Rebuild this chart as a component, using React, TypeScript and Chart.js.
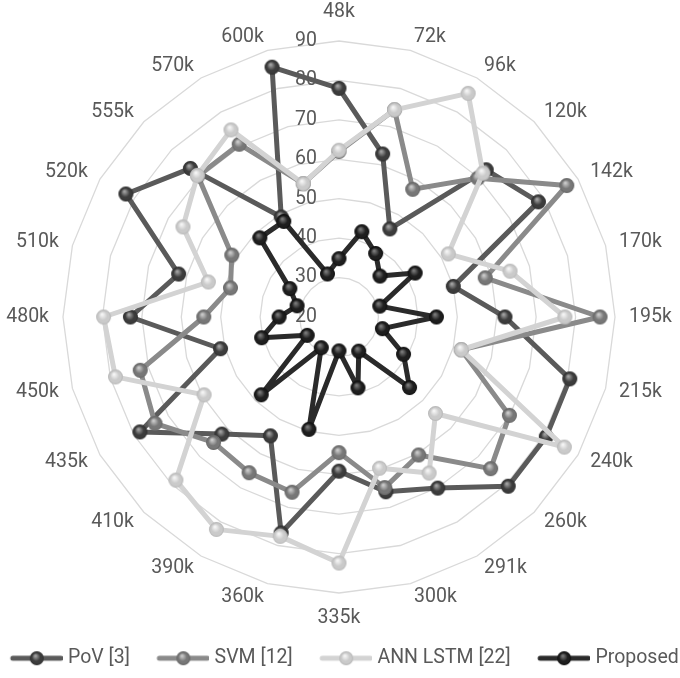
import React, { useEffect, useRef } from 'react';
import { Chart, registerables } from 'chart.js';

Chart.register(...registerables);

const categories = ['48k', '72k', '96k', '120k', '142k', '170k', '195k', '215k', '240k', '260k', '291k', '300k', '335k', '360k', '390k', '410k', '435k', '450k', '480k', '510k', '520k', '555k', '570k', '600k'];

const povValues = [78.0, 62.8, 45.8, 72.8, 78.4, 50.0, 62.1, 80.6, 80.7, 80.7, 70.1, 65.9, 59.1, 76.7, 54.8, 62.0, 78.3, 51.1, 72.9, 62.1, 82.4, 73.3, 49.3, 85.6];
const svmValues = [62.0, 74.4, 57.4, 69.8, 86.7, 58.4, 86.2, 52.1, 69.9, 74.4, 60.4, 64.8, 54.4, 66.0, 65.6, 65.0, 73.9, 72.2, 54.3, 48.5, 51.4, 70.6, 70.6, 55.0];
const annValues = [62.3, 74.4, 85.5, 71.6, 52.0, 64.9, 77.3, 52.1, 86.0, 54.6, 65.7, 59.7, 82.4, 77.6, 82.2, 78.5, 59.5, 78.7, 79.7, 54.3, 65.7, 70.8, 74.8, 55.0];
const proposedValues = [34.8, 42.4, 38.6, 34.7, 42.3, 30.7, 44.7, 31.4, 38.9, 45.3, 30.0, 38.6, 28.6, 49.5, 29.0, 47.9, 29.3, 40.3, 35.2, 31.0, 34.4, 48.4, 48.0, 31.3];

const seriesNames = ['PoV [3]', 'SVM [12]', 'ANN LSTM [22]', 'Proposed'];
const seriesValues = [povValues, svmValues, annValues, proposedValues];

const axisMin = 20;
const axisMax = 90;
const axisStep = 10;

const FONT = 'Roboto, "DejaVu Sans", sans-serif';
const TEXT_COLOR = '#595959';

const seriesStyles = [
  { line: '#5a5a5a', light: '#a0a0a0', dark: '#3c3c3c', border: '#333333' },
  { line: '#8a8a8a', light: '#c8c8c8', dark: '#777777', border: '#6a6a6a' },
  { line: '#d3d3d3', light: '#f4f4f4', dark: '#cacaca', border: '#bcbcbc' },
  { line: '#2a2a2a', light: '#777777', dark: '#1e1e1e', border: '#121212' },
];

function drawSphere(ctx: CanvasRenderingContext2D, cx: number, cy: number, r: number, st: any) {
  const g = ctx.createRadialGradient(cx - r * 0.2, cy - r * 0.35, r * 0.1, cx, cy, r);
  g.addColorStop(0, st.light);
  g.addColorStop(0.55, st.dark);
  g.addColorStop(1, st.dark);
  ctx.beginPath();
  ctx.arc(cx, cy, r - 0.6, 0, Math.PI * 2);
  ctx.fillStyle = g;
  ctx.fill();
  ctx.lineWidth = 1.2;
  ctx.strokeStyle = st.border;
  ctx.stroke();
}

function makeMarker(st: any) {
  const r = 7.5;
  const c = document.createElement('canvas');
  c.width = 17;
  c.height = 17;
  const ctx = c.getContext('2d')!;
  drawSphere(ctx, 8.5, 8.5, r, st);
  return c;
}

function makeLegendIcon(st: any) {
  const c = document.createElement('canvas');
  c.width = 68;
  c.height = 18;
  const ctx = c.getContext('2d')!;
  ctx.beginPath();
  ctx.moveTo(18, 9);
  ctx.lineTo(66, 9);
  ctx.lineWidth = 5;
  ctx.lineCap = 'round';
  ctx.strokeStyle = st.line;
  ctx.stroke();
  drawSphere(ctx, 42, 9, 7, st);
  return c;
}

const labelPlugin = {
  id: 'excelLabels',
  beforeDatasetsDraw(chart: any) {
    const s = chart.scales.r;
    const ctx = chart.ctx;
    ctx.save();
    ctx.font = `19.5px ${FONT}`;
    ctx.fillStyle = TEXT_COLOR;
    ctx.textAlign = 'right';
    ctx.textBaseline = 'middle';
    s.ticks.forEach((t: any) => {
      const d = s.getDistanceFromCenterForValue(t.value);
      ctx.fillText(String(t.value), s.xCenter - 22, s.yCenter - d);
    });
    ctx.restore();
  },
  afterDatasetsDraw(chart: any) {
    const s = chart.scales.r;
    const ctx = chart.ctx;
    ctx.save();
    ctx.font = `19.5px ${FONT}`;
    ctx.fillStyle = TEXT_COLOR;
    ctx.textBaseline = 'middle';
    const n = categories.length;
    categories.forEach((label, i) => {
      const deg = (i * 360) / n;
      const p = s.getPointPosition(i, s.drawingArea + 14);
      let y = p.y;
      if (deg === 0) {
        ctx.textAlign = 'center';
        y -= 14.5;
      } else if (deg === 180) {
        ctx.textAlign = 'center';
        y += 11;
      } else if (deg < 180) {
        ctx.textAlign = 'left';
      } else {
        ctx.textAlign = 'right';
      }
      ctx.fillText(label, p.x, y);
    });
    ctx.restore();
  },
};

export default function App() {
  const ref = useRef<HTMLCanvasElement | null>(null);

  useEffect(() => {
    document.body.style.margin = '0';
    const canvas = ref.current;
    if (!canvas) return;
    const markers = seriesStyles.map(makeMarker);
    const icons = seriesStyles.map(makeLegendIcon);
    const chart = new Chart(canvas, {
      type: 'radar',
      data: {
        labels: categories,
        datasets: seriesNames.map((name, i) => ({
          label: name,
          data: seriesValues[i],
          borderColor: seriesStyles[i].line,
          backgroundColor: 'rgba(0,0,0,0)',
          borderWidth: 5,
          borderJoinStyle: 'round',
          fill: false,
          pointStyle: markers[i],
          pointRadius: 7.5,
          pointHoverRadius: 7.5,
          order: 3 - i,
        })),
      },
      options: {
        animation: false,
        responsive: true,
        maintainAspectRatio: false,
        layout: { padding: { top: 41, bottom: 0, left: 0, right: 0 } },
        scales: {
          r: {
            min: axisMin,
            max: axisMax,
            startAngle: 0,
            ticks: { display: false, stepSize: axisStep },
            grid: { color: '#d9d9d9', lineWidth: 1.3 },
            angleLines: { display: false },
            pointLabels: { display: false },
          },
        },
        plugins: {
          tooltip: { enabled: false },
          legend: {
            position: 'bottom',
            title: { display: true, text: '', padding: { top: 25.1, bottom: 0 }, font: { size: 12 } },
            labels: {
              usePointStyle: true,
              pointStyleWidth: 59,
              padding: 16,
              color: TEXT_COLOR,
              font: { family: FONT, size: 19.5 },
              sort: (a: any, b: any) => a.datasetIndex - b.datasetIndex,
              generateLabels: (c: any) => {
                const items = (Chart.defaults.plugins.legend.labels as any).generateLabels(c);
                return items.map((it: any) => ({ ...it, pointStyle: icons[it.datasetIndex], fontColor: TEXT_COLOR }));
              },
            },
          },
        },
      } as any,
      plugins: [labelPlugin],
    });
    return () => chart.destroy();
  }, []);

  return (
    <div style={{ position: 'fixed', left: 0, top: 0, width: 680, height: 678, overflow: 'hidden', background: '#fff' }}>
      <div style={{ position: 'absolute', left: -31, top: 0, width: 740, height: 678 }}>
        <canvas ref={ref} />
      </div>
    </div>
  );
}
